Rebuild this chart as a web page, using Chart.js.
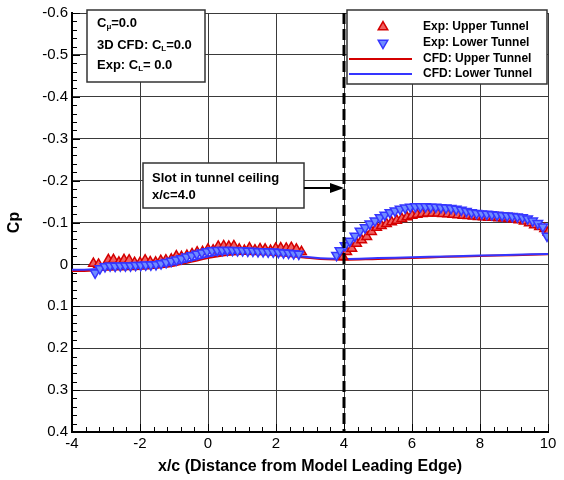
<!DOCTYPE html>
<html>
<head>
<meta charset="utf-8">
<script src="https://cdn.jsdelivr.net/npm/chart.js@4.4.1/dist/chart.umd.min.js"></script>
<style>
  html, body { margin: 0; background: #fff; }
  #wrap { width: 564px; height: 480px; }
</style>
</head>
<body>
<div id="wrap"><canvas id="c"></canvas></div>
<script>
// ── Data ──────────────────────────────────────────────────────────────────

const X_TICKS = [-4, -2, 0, 2, 4, 6, 8, 10];
const Y_TICKS = [-0.6, -0.5, -0.4, -0.3, -0.2, -0.1, 0, 0.1, 0.2, 0.3, 0.4];

// Exp: Upper Tunnel (red triangles)
const expUpX = [-3.37, -3.22, -2.93, -2.78, -2.62, -2.47, -2.32, -2.16, -2.0, -1.85, -1.7, -1.54, -1.39, -1.24, -1.08,
  -0.93, -0.78, -0.62, -0.47, -0.32, -0.16, 0.0, 0.15, 0.3, 0.46, 0.61, 0.76, 0.92, 1.07, 1.22, 1.38, 1.53, 1.68,
  1.84, 1.99, 2.14, 2.3, 2.45, 2.6, 2.75,
  3.97, 4.08, 4.23, 4.37, 4.52, 4.67, 4.81, 4.96, 5.1, 5.25, 5.4, 5.55, 5.7, 5.85, 6.0, 6.15, 6.3, 6.45, 6.6, 6.75,
  6.9, 7.05, 7.2, 7.35, 7.5, 7.65, 7.8, 7.95, 8.1, 8.25, 8.4, 8.55, 8.7, 8.85, 9.0, 9.15, 9.3, 9.45, 9.6, 9.75, 9.9, 10.0];
const expUpCp = [-0.002, 0.0, -0.011, -0.011, -0.005, -0.011, -0.01, -0.004, -0.004, -0.01, -0.006, -0.005, -0.009, -0.01, -0.012,
  -0.02, -0.018, -0.021, -0.025, -0.029, -0.03, -0.036, -0.034, -0.043, -0.044, -0.043, -0.044, -0.036, -0.033, -0.039, -0.034, -0.037, -0.036,
  -0.033, -0.038, -0.039, -0.038, -0.04, -0.036, -0.03,
  -0.018, -0.03, -0.038, -0.05, -0.058, -0.066, -0.078, -0.088, -0.092, -0.097, -0.101, -0.105, -0.109, -0.113, -0.117, -0.119, -0.121, -0.122, -0.122, -0.122,
  -0.121, -0.12, -0.119, -0.118, -0.117, -0.116, -0.115, -0.114, -0.113, -0.112, -0.112, -0.111, -0.11, -0.109, -0.108, -0.106, -0.103, -0.099, -0.094, -0.09, -0.085, -0.077];

// Exp: Lower Tunnel (blue inverted triangles)
const expLoX = [-3.32, -3.18, -3.03, -2.88, -2.73, -2.58, -2.43, -2.28, -2.13, -1.98, -1.83, -1.68, -1.53, -1.38, -1.23,
  -1.08, -0.93, -0.78, -0.63, -0.48, -0.33, -0.18, -0.03, 0.12, 0.27, 0.42, 0.57, 0.72, 0.87, 1.02, 1.17, 1.32, 1.47,
  1.62, 1.77, 1.92, 2.07, 2.22, 2.37, 2.52, 2.67,
  3.78, 3.88, 4.03, 4.17, 4.32, 4.47, 4.62, 4.76, 4.91, 5.06, 5.2, 5.35, 5.5, 5.65, 5.8, 5.95, 6.1, 6.25, 6.4, 6.55,
  6.7, 6.85, 7.0, 7.15, 7.3, 7.45, 7.6, 7.75, 7.9, 8.05, 8.2, 8.35, 8.5, 8.65, 8.8, 8.95, 9.1, 9.25, 9.4, 9.55, 9.7, 9.85, 9.97];
const expLoCp = [0.02, 0.01, 0.005, 0.003, 0.004, 0.003, 0.003, 0.003, 0.002, 0.002, 0.001, 0.001, 0.0, -0.002, -0.005,
  -0.008, -0.011, -0.014, -0.018, -0.021, -0.025, -0.028, -0.031, -0.033, -0.034, -0.034, -0.034, -0.034, -0.033, -0.033, -0.032, -0.032, -0.031,
  -0.031, -0.03, -0.03, -0.029, -0.028, -0.027, -0.026, -0.025,
  -0.022, -0.033, -0.045, -0.056, -0.068, -0.08, -0.088, -0.097, -0.104, -0.112, -0.118, -0.124, -0.128, -0.132, -0.135, -0.137, -0.138, -0.138, -0.138, -0.137,
  -0.137, -0.136, -0.135, -0.134, -0.132, -0.13, -0.127, -0.124, -0.122, -0.121, -0.12, -0.119, -0.118, -0.117, -0.116, -0.115, -0.114, -0.112, -0.109, -0.104, -0.098, -0.09, -0.068];

// CFD: Upper / Lower Tunnel (lines)
const cfdX = [-4, -3.5, -3, -2.5, -2, -1.5, -1, -0.5, 0, 0.5, 1, 1.5, 2, 2.5, 3, 3.5, 4, 5, 6, 7, 8, 9, 10];
const cfdUpCp = [0.016, 0.015, 0.013, 0.012, 0.011, 0.008, 0.003, -0.006, -0.015, -0.022, -0.025, -0.024, -0.022, -0.019, -0.015, -0.012, -0.011, -0.013, -0.015, -0.018, -0.02, -0.022, -0.024];
const cfdLoCp = [0.013, 0.012, 0.01, 0.009, 0.008, 0.005, 0.0, -0.009, -0.019, -0.026, -0.028, -0.027, -0.025, -0.021, -0.017, -0.014, -0.013, -0.015, -0.017, -0.019, -0.021, -0.023, -0.025];

// ── Style ─────────────────────────────────────────────────────────────────

const FONT = '"Liberation Sans", Arial, Helvetica, sans-serif';
const RED = '#d40000';
const RED_FILL = '#f06060';
const BLUE = '#3535ff';
const BLUE_FILL = '#6f8cff';
const MARK_R = 5.5;

const pts = (xs, ys) => xs.map((x, i) => ({ x, y: ys[i] }));

// ── Decorations: inward ticks, slot line, text boxes ──────────────────────

function richText(ctx, parts, x, y, size) {
  let cx = x;
  parts.forEach(([t, sub]) => {
    ctx.font = `bold ${sub ? Math.round(size * 0.6) : size}px ${FONT}`;
    ctx.fillText(t, cx, sub ? y + size * 0.3 : y);
    cx += ctx.measureText(t).width;
  });
}

function box(ctx, x0, y0, x1, y1) {
  ctx.save();
  ctx.fillStyle = '#fff';
  ctx.fillRect(x0, y0, x1 - x0, y1 - y0);
  ctx.strokeStyle = '#333';
  ctx.lineWidth = 1.5;
  ctx.strokeRect(x0, y0, x1 - x0, y1 - y0);
  ctx.restore();
}

const decor = {
  id: 'decor',
  afterDatasetsDraw(chart) {
    const { ctx, chartArea: a, scales: { x, y } } = chart;
    ctx.save();
    ctx.strokeStyle = '#000';
    ctx.lineWidth = 1;
    // inward ticks on the bottom axis
    for (let i = 0; i <= 35; i++) {
      const v = -4 + i * 0.4;
      const px = Math.round(x.getPixelForValue(v)) + 0.5;
      const len = i % 5 === 0 ? 8 : 5;
      ctx.beginPath(); ctx.moveTo(px, a.bottom); ctx.lineTo(px, a.bottom - len); ctx.stroke();
    }
    // inward ticks on the left axis
    for (let i = 0; i <= 50; i++) {
      const v = -0.6 + i * 0.02;
      const py = Math.round(y.getPixelForValue(v)) + 0.5;
      const len = i % 5 === 0 ? 8 : 5;
      ctx.beginPath(); ctx.moveTo(a.left, py); ctx.lineTo(a.left + len, py); ctx.stroke();
    }
    // slot in tunnel ceiling
    const sx = x.getPixelForValue(4);
    ctx.lineWidth = 3;
    ctx.setLineDash([11, 5]);
    ctx.beginPath(); ctx.moveTo(sx, a.top); ctx.lineTo(sx, a.bottom); ctx.stroke();
    ctx.restore();
  },
  afterDraw(chart) {
    const { ctx, scales: { x } } = chart;
    const sx = x.getPixelForValue(4);
    ctx.save();
    ctx.fillStyle = '#000';
    ctx.textBaseline = 'middle';

    // conditions box
    box(ctx, 87, 10, 205, 82);
    richText(ctx, [['C'], ['\u03bc', 1], ['=0.0']], 97, 23, 13);
    richText(ctx, [['3D CFD: C'], ['L', 1], ['=0.0']], 97, 45, 13);
    richText(ctx, [['Exp: C'], ['L', 1], ['= 0.0']], 97, 65, 13);

    // slot annotation
    box(ctx, 143, 163, 304, 208);
    richText(ctx, [['Slot in tunnel ceiling']], 152, 178, 13);
    richText(ctx, [['x/c=4.0']], 152, 195, 13);
    ctx.strokeStyle = '#000';
    ctx.lineWidth = 2;
    ctx.beginPath(); ctx.moveTo(304, 188); ctx.lineTo(sx - 10, 188); ctx.stroke();
    ctx.beginPath();
    ctx.moveTo(sx, 188); ctx.lineTo(sx - 14, 183); ctx.lineTo(sx - 14, 193); ctx.closePath();
    ctx.fill();

    // legend
    box(ctx, 347, 10, 547, 84);
    const items = [
      { label: 'Exp: Upper Tunnel', y: 27, mark: 'up' },
      { label: 'Exp: Lower Tunnel', y: 43, mark: 'down' },
      { label: 'CFD: Upper Tunnel', y: 59, line: RED },
      { label: 'CFD: Lower Tunnel', y: 74, line: BLUE },
    ];
    items.forEach(it => {
      if (it.line) {
        ctx.strokeStyle = it.line; ctx.lineWidth = 2;
        ctx.beginPath(); ctx.moveTo(349, it.y); ctx.lineTo(412, it.y); ctx.stroke();
      } else {
        const up = it.mark === 'up';
        ctx.fillStyle = up ? RED_FILL : BLUE_FILL;
        ctx.strokeStyle = up ? RED : BLUE;
        ctx.lineWidth = 1.5;
        Chart.helpers.drawPoint(ctx, { pointStyle: 'triangle', radius: MARK_R, rotation: up ? 0 : 180, borderWidth: 1.5 }, 383, it.y);
      }
      ctx.fillStyle = '#000';
      richText(ctx, [[it.label]], 423, it.y, 12);
    });
    ctx.restore();
  },
};

// ── Chart ─────────────────────────────────────────────────────────────────

new Chart(document.getElementById('c'), {
  type: 'scatter',
  data: {
    datasets: [
      {
        label: 'Exp: Upper Tunnel',
        data: pts(expUpX, expUpCp),
        pointStyle: 'triangle', pointRadius: MARK_R, pointRotation: 0,
        backgroundColor: RED_FILL, borderColor: RED, borderWidth: 1.5,
        order: 2,
      },
      {
        label: 'Exp: Lower Tunnel',
        data: pts(expLoX, expLoCp),
        pointStyle: 'triangle', pointRadius: MARK_R, pointRotation: 180,
        backgroundColor: BLUE_FILL, borderColor: BLUE, borderWidth: 1.5,
        order: 1,
      },
      {
        label: 'CFD: Upper Tunnel',
        type: 'line',
        data: pts(cfdX, cfdUpCp),
        borderColor: RED, borderWidth: 2, pointRadius: 0, tension: 0.4, fill: false,
        order: 4,
      },
      {
        label: 'CFD: Lower Tunnel',
        type: 'line',
        data: pts(cfdX, cfdLoCp),
        borderColor: BLUE, borderWidth: 2, pointRadius: 0, tension: 0.4, fill: false,
        order: 3,
      },
    ],
  },
  options: {
    responsive: true,
    maintainAspectRatio: false,
    animation: false,
    layout: { padding: { top: 12, right: 16, left: 0, bottom: 0 } },
    plugins: {
      legend: { display: false },
      tooltip: { enabled: false },
    },
    scales: {
      x: {
        type: 'linear',
        min: -4, max: 10,
        afterBuildTicks: s => { s.ticks = X_TICKS.map(value => ({ value })); },
        afterFit: s => { s.height = 48; },
        grid: { color: '#3a3a3a', lineWidth: 1, drawTicks: false },
        border: { color: '#000', width: 2 },
        ticks: { color: '#000', font: { family: FONT, size: 15 }, padding: 3, maxRotation: 0 },
        title: {
          display: true, text: 'x/c (Distance from Model Leading Edge)',
          color: '#000', font: { family: FONT, size: 16, weight: 'bold' }, padding: { top: 2 },
        },
      },
      y: {
        type: 'linear',
        min: -0.6, max: 0.4, reverse: true,
        afterBuildTicks: s => { s.ticks = Y_TICKS.map(value => ({ value })); },
        afterFit: s => { s.width = 72; },
        grid: { color: '#3a3a3a', lineWidth: 1, drawTicks: false },
        border: { color: '#000', width: 2 },
        ticks: {
          color: '#000', font: { family: FONT, size: 15 }, padding: 4,
          callback: v => Math.abs(v) < 1e-9 ? '0' : v.toFixed(1),
        },
        title: {
          display: true, text: 'Cp',
          color: '#000', font: { family: FONT, size: 16, weight: 'bold' }, padding: { top: 5, bottom: 0 },
        },
      },
    },
  },
  plugins: [decor],
});
</script>
</body>
</html>
